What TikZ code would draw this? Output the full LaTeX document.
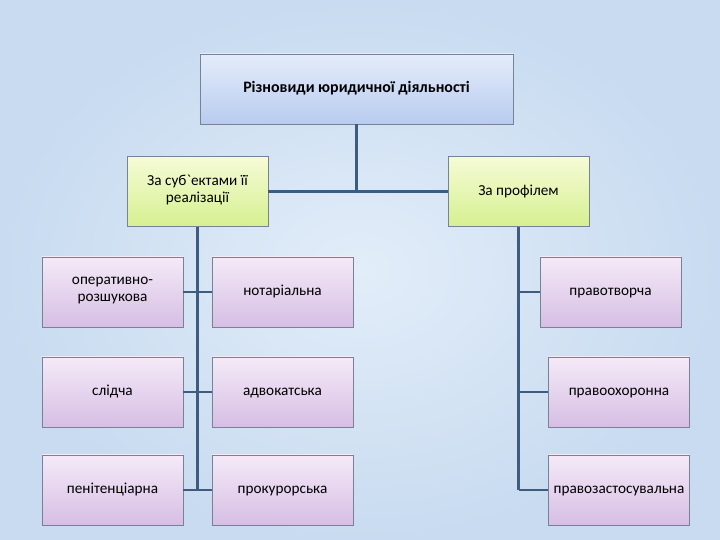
\documentclass[tikz,border=0pt]{standalone}
\usepackage{fontspec}
\newfontfamily\ukfont{Carlito}

\definecolor{fondo}{RGB}{200,219,240}
\definecolor{fondoclaro}{RGB}{226,237,249}
\definecolor{azularriba}{RGB}{228,236,250}
\definecolor{azulabajo}{RGB}{184,204,240}
\definecolor{verdearriba}{RGB}{246,251,214}
\definecolor{verdeabajo}{RGB}{214,240,145}
\definecolor{lilaarriba}{RGB}{245,234,248}
\definecolor{lilaabajo}{RGB}{214,190,228}
\definecolor{borde}{RGB}{120,130,150}
\definecolor{conector}{RGB}{62,92,128}

\begin{document}
\begin{tikzpicture}[x=0.03cm, y=-0.03cm,
    caja/.style={draw=borde, line width=0.6pt, minimum width=4.23cm, minimum height=2.1cm,
      inner sep=1pt, align=center, font=\ukfont\fontsize{13}{15}\selectfont,
      execute at begin node=\strut, execute at end node=\strut},
    raiz/.style={caja, minimum width=9.39cm, top color=azularriba, bottom color=azulabajo,
      font=\ukfont\bfseries\fontsize{13.6}{15}\selectfont},
    grupo/.style={caja, top color=verdearriba, bottom color=verdeabajo},
    tipo/.style={caja, top color=lilaarriba, bottom color=lilaabajo},
    linea/.style={draw=conector, line width=1.8pt}]
        % Fondo
        \shade[inner color=fondoclaro, outer color=fondo] (0,0) rectangle (720,540);

        % Nivel superior
        \node[raiz] (raiz) at (356.5,89) {Різновиди юридичної діяльності};
        \node[grupo] (subj) at (197.5,191.5) {За суб`ектами її\\реалізації};
        \node[grupo] (prof) at (518.5,191.5) {За профілем};

        % Columna izquierda
        \node[tipo] (oper) at (112.5,292) {оперативно-\\розшукова};
        \node[tipo] (slid) at (112.5,392) {слідча};
        \node[tipo] (peni) at (112.5,490) {пенітенціарна};

        % Columna central
        \node[tipo] (nota) at (282.5,292) {нотаріальна};
        \node[tipo] (advo) at (282.5,392) {адвокатська};
        \node[tipo] (prok) at (282.5,490) {прокурорська};

        % Columna derecha
        \node[tipo] (ptvo) at (610.5,292) {правотворча};
        \node[tipo] (pohr) at (619,392) {правоохоронна};
        \node[tipo] (pzas) at (619,490) {правозастосувальна};

        % Conectores
        \draw[linea] (raiz.south) -- (raiz.south |- subj.east);
        \draw[linea] (subj.east) -- (prof.west);
        \draw[linea] (subj.south) -- (subj.south |- peni.east);
        \draw[linea] (oper.east) -- (nota.west);
        \draw[linea] (slid.east) -- (advo.west);
        \draw[linea] (peni.east) -- (prok.west);
        \draw[linea] (prof.south) -- (prof.south |- pzas.west);
        \draw[linea] (prof.south |- ptvo.west) -- (ptvo.west);
        \draw[linea] (prof.south |- pohr.west) -- (pohr.west);
        \draw[linea] (prof.south |- pzas.west) -- (pzas.west);
    \end{tikzpicture}
\end{document}
